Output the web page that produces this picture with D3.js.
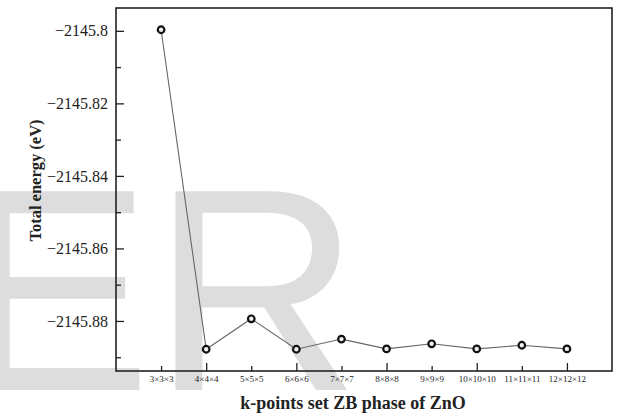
<!DOCTYPE html>
<html>
<head>
<meta charset="utf-8">
<script src="https://cdn.jsdelivr.net/npm/d3@7"></script>
<style>
  html, body { margin: 0; padding: 0; background: #fff; }
  svg { display: block; }
  .serif { font-family: "Liberation Serif", "Times New Roman", serif; }
</style>
</head>
<body>
<svg id="chart" width="623" height="419"></svg>
<script>
// k-point grids tested for the zinc-blende ZnO cell
const kpoints = ["3×3×3", "4×4×4", "5×5×5", "6×6×6", "7×7×7", "8×8×8", "9×9×9", "10×10×10", "11×11×11", "12×12×12"];
// Total energy (eV) for each grid
const totalEnergy = [-2145.7997, -2145.8878, -2145.8794, -2145.8878, -2145.8850, -2145.8877, -2145.8863, -2145.8877, -2145.8867, -2145.8877];
// Axis ticks
const yMajorTicks = [-2145.80, -2145.82, -2145.84, -2145.86, -2145.88];
const yMinorTicks = [-2145.81, -2145.83, -2145.85, -2145.87, -2145.89];
const yDomain = [-2145.8938, -2145.7937];

const svg = d3.select("#chart");
const plotL = 116, plotR = 612, plotT = 8, plotB = 371;

// background lettering
svg.append("text")
  .attr("x", -41).attr("y", 390)
  .style("font-family", "'Liberation Sans', Arial, sans-serif")
  .attr("font-size", 289)
  .attr("fill", "#dddddd")
  .text("ER");

const x = d3.scalePoint().domain(kpoints).range([plotL, plotR]).padding(1);
const y = d3.scaleLinear().domain(yDomain).range([plotB, plotT]);

// y axis: major ticks with labels, pointing inward
const yAxis = svg.append("g")
  .attr("transform", `translate(${plotL},0)`)
  .call(d3.axisLeft(y).tickValues(yMajorTicks).tickSize(-8).tickPadding(8)
    .tickFormat(d => d3.format(".2~f")(d)));
yAxis.attr("font-family", null).attr("font-size", null);
yAxis.select(".domain").remove();
yAxis.selectAll("line").attr("stroke", "#222").attr("stroke-width", 1.3);
yAxis.selectAll("text").attr("class", "serif").style("font-size", "16px").attr("fill", "#222");

const yMinor = svg.append("g")
  .attr("transform", `translate(${plotL},0)`)
  .call(d3.axisLeft(y).tickValues(yMinorTicks).tickSize(-5).tickFormat(""));
yMinor.select(".domain").remove();
yMinor.selectAll("line").attr("stroke", "#222").attr("stroke-width", 1.3);

// x axis: long ticks on even grids, short on odd
const xAxis = svg.append("g")
  .attr("transform", `translate(0,${plotB})`)
  .call(d3.axisBottom(x).tickSize(-8).tickPadding(5));
xAxis.attr("font-family", null).attr("font-size", null);
xAxis.select(".domain").remove();
xAxis.selectAll(".tick line")
  .attr("y2", (d, i) => i % 2 === 0 ? -5 : -8)
  .attr("stroke", "#222").attr("stroke-width", 1.3);
xAxis.selectAll("text").attr("class", "serif").style("font-size", "9px").attr("fill", "#222");

// plot frame
svg.append("rect")
  .attr("x", plotL).attr("y", plotT)
  .attr("width", plotR - plotL).attr("height", plotB - plotT)
  .attr("fill", "none").attr("stroke", "#222").attr("stroke-width", 1.6);

// energy curve
const pts = kpoints.map((k, i) => [x(k), y(totalEnergy[i])]);
svg.append("path")
  .attr("d", d3.line()(pts))
  .attr("fill", "none").attr("stroke", "#666").attr("stroke-width", 1.1);

svg.append("g").selectAll("circle")
  .data(pts).join("circle")
  .attr("cx", d => d[0]).attr("cy", d => d[1])
  .attr("r", 3.3)
  .attr("fill", "#eee").attr("stroke", "#111").attr("stroke-width", 2.2);

// axis titles
svg.append("text")
  .attr("class", "serif")
  .attr("transform", "translate(41,180.5) rotate(-90)")
  .attr("text-anchor", "middle")
  .style("font-weight", "bold").style("font-size", "16.5px")
  .attr("fill", "#222")
  .text("Total energy (eV)");

svg.append("text")
  .attr("class", "serif")
  .attr("x", 353).attr("y", 409)
  .attr("text-anchor", "middle")
  .style("font-weight", "bold").style("font-size", "18px")
  .attr("fill", "#222")
  .text("k-points set ZB phase of ZnO");
</script>
</body>
</html>
